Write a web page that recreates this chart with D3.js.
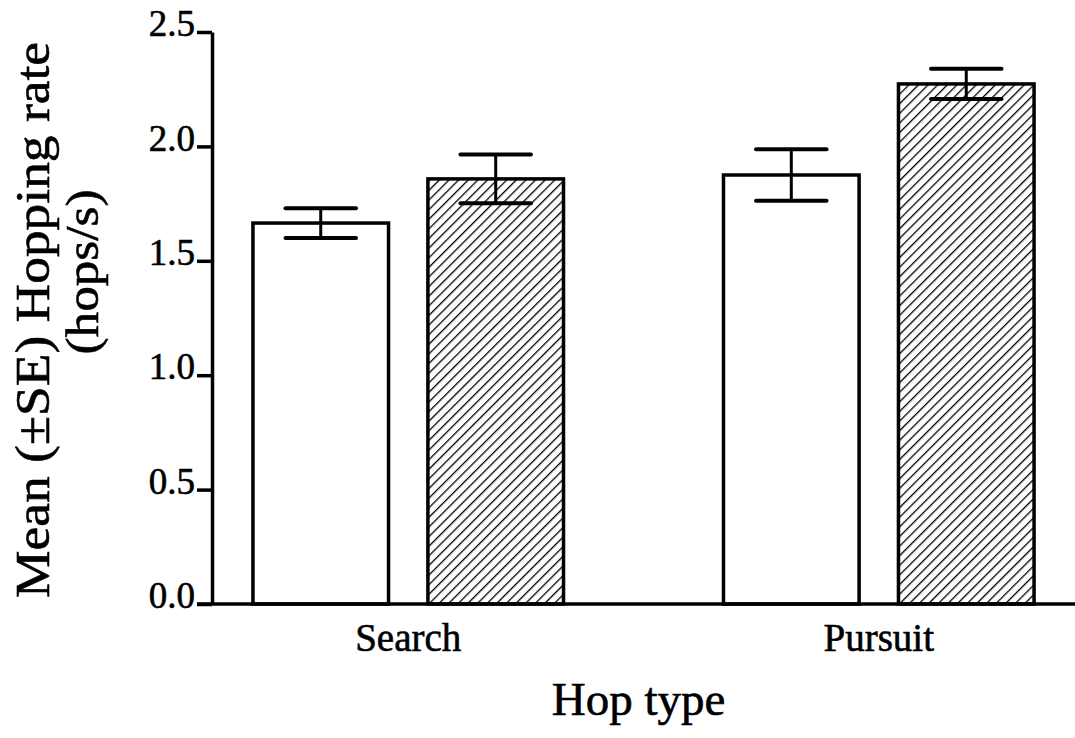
<!DOCTYPE html>
<html>
<head>
<meta charset="utf-8">
<script src="https://cdn.jsdelivr.net/npm/d3@7"></script>
<style>
  html, body { margin: 0; padding: 0; background: #fff; }
  svg { display: block; }
  text { font-family: "Liberation Serif", "Times New Roman", serif; fill: #000; stroke: #000; stroke-width: 0.6px; }
</style>
</head>
<body>
<svg id="chart" width="1075" height="738"></svg>
<script>
// ---- data ----
const categories = ["Search", "Pursuit"];
const seriesNames = ["open", "hatched"];
const meanOpen = [1.665, 1.875];
const meanHatched = [1.858, 2.273];
const seOpen = [0.065, 0.112];
const seHatched = [0.107, 0.066];
const yTicks = [0.0, 0.5, 1.0, 1.5, 2.0, 2.5];
const yTitle1 = "Mean (\u00B1SE) Hopping rate";
const yTitle2 = "(hops/s)";
const xTitle = "Hop type";

const rows = categories.map((c, i) => ({
  cat: c,
  values: [
    { s: "open", v: meanOpen[i], se: seOpen[i] },
    { s: "hatched", v: meanHatched[i], se: seHatched[i] }
  ]
}));

// ---- layout ----
const svg = d3.select("#chart");
const mLeft = 212, mRight = 1075, mTop = 32, mBottom = 604;

const y = d3.scaleLinear().domain([0, 2.5]).range([mBottom, mTop]);
const x0 = d3.scaleBand().domain(categories).range([mLeft, mRight])
  .paddingInner(0.34).paddingOuter(0.087);
const x1 = d3.scaleBand().domain(seriesNames).range([0, x0.bandwidth()])
  .paddingInner(0.225);

// hatch pattern
const defs = svg.append("defs");
defs.append("pattern")
  .attr("id", "hatch")
  .attr("patternUnits", "userSpaceOnUse")
  .attr("width", 6.8).attr("height", 6.8)
  .attr("patternTransform", "rotate(45)")
  .append("line")
  .attr("x1", 0).attr("y1", -1).attr("x2", 0).attr("y2", 8)
  .attr("stroke", "#000").attr("stroke-width", 2.6);

// bars
const g = svg.append("g");
const groups = g.selectAll("g.grp").data(rows).join("g")
  .attr("class", "grp")
  .attr("transform", d => `translate(${x0(d.cat)},0)`);

groups.selectAll("rect").data(d => d.values).join("rect")
  .attr("x", d => x1(d.s))
  .attr("y", d => y(d.v))
  .attr("width", x1.bandwidth())
  .attr("height", d => y(0) - y(d.v))
  .attr("fill", d => d.s === "open" ? "#fff" : "url(#hatch)")
  .attr("stroke", "#000").attr("stroke-width", 3.5);

// error bars
const capHalf = x1.bandwidth() * 0.26;
const eb = groups.selectAll("g.eb").data(d => d.values).join("g").attr("class", "eb");
eb.append("line")
  .attr("x1", d => x1(d.s) + x1.bandwidth() / 2)
  .attr("x2", d => x1(d.s) + x1.bandwidth() / 2)
  .attr("y1", d => y(d.v + d.se)).attr("y2", d => y(d.v - d.se))
  .attr("stroke", "#000").attr("stroke-width", 3);
eb.append("line")
  .attr("x1", d => x1(d.s) + x1.bandwidth() / 2 - capHalf)
  .attr("x2", d => x1(d.s) + x1.bandwidth() / 2 + capHalf)
  .attr("y1", d => y(d.v + d.se)).attr("y2", d => y(d.v + d.se))
  .attr("stroke", "#000").attr("stroke-width", 4).attr("stroke-linecap", "round");
eb.append("line")
  .attr("x1", d => x1(d.s) + x1.bandwidth() / 2 - capHalf)
  .attr("x2", d => x1(d.s) + x1.bandwidth() / 2 + capHalf)
  .attr("y1", d => y(d.v - d.se)).attr("y2", d => y(d.v - d.se))
  .attr("stroke", "#000").attr("stroke-width", 4).attr("stroke-linecap", "round");

// y axis
const yAxis = d3.axisLeft(y).tickValues(yTicks).tickFormat(d3.format(".1f"))
  .tickSize(15).tickSizeOuter(0).tickPadding(2);
const ya = svg.append("g").attr("transform", `translate(${mLeft},0)`).call(yAxis);
ya.select(".domain").attr("stroke-width", 3.5);
ya.selectAll(".tick line").attr("stroke-width", 3.5);
ya.selectAll(".tick text")
  .style("font-size", "37px").attr("dy", "0.1em")
  .style("font-family", "'Liberation Serif', serif");

// x axis
const xAxis = d3.axisBottom(x0).tickSize(0).tickSizeOuter(0).tickPadding(18);
const xa = svg.append("g").attr("transform", `translate(0,${mBottom})`).call(xAxis);
xa.select(".domain").remove();
xa.append("line").attr("x1", mLeft - 15).attr("x2", mRight)
  .attr("y1", 0).attr("y2", 0).attr("stroke", "#000").attr("stroke-width", 3.5);
xa.selectAll(".tick text")
  .style("font-size", "39px").attr("dy", "0.75em")
  .style("font-family", "'Liberation Serif', serif");

// titles
svg.append("text")
  .attr("x", (mLeft + mRight) / 2 - 5).attr("y", 715)
  .attr("text-anchor", "middle")
  .style("font-size", "47px")
  .text(xTitle);

svg.append("text")
  .attr("transform", `translate(49,320) rotate(-90)`)
  .attr("text-anchor", "middle")
  .attr("textLength", 556).attr("lengthAdjust", "spacingAndGlyphs")
  .style("font-size", "49px")
  .text(yTitle1);
svg.append("text")
  .attr("transform", `translate(98,272) rotate(-90)`)
  .attr("text-anchor", "middle")
  .attr("textLength", 165).attr("lengthAdjust", "spacingAndGlyphs")
  .style("font-size", "47px")
  .text(yTitle2);
</script>
</body>
</html>
